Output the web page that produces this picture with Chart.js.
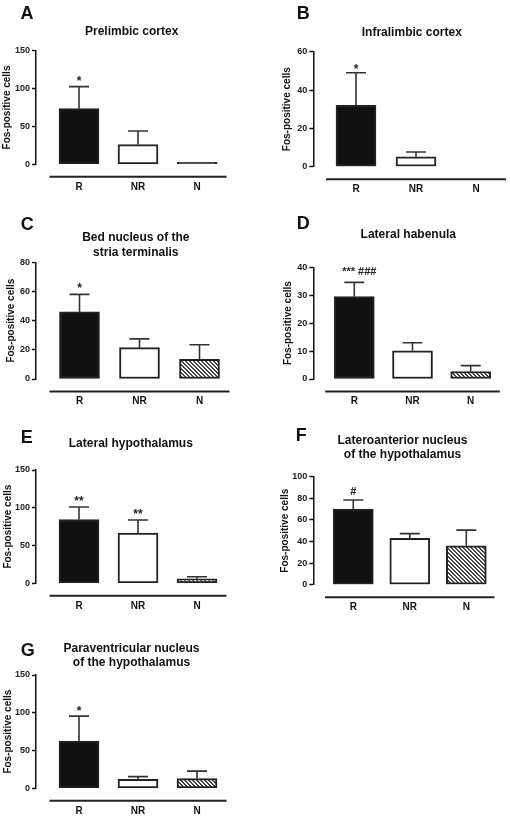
<!DOCTYPE html>
<html>
<head>
<meta charset="utf-8">
<script src="https://cdn.jsdelivr.net/npm/chart.js@4.4.1/dist/chart.umd.min.js"></script>
<style>
  body { margin: 0; background: #fff; }
  #fig { position: relative; width: 510px; height: 817px; overflow: hidden; }
  #fig canvas { position: absolute; }
</style>
</head>
<body>
<div id="fig"></div>
<script>
const categories = ['R', 'NR', 'N'];

// mean Fos-positive cells and SEM for each region
const prelimbicMean = [73.5, 26, 2.5];
const prelimbicSem = [29, 18, 0];
const infralimbicMean = [32, 5.2, 0];
const infralimbicSem = [17, 2.5, 0];
const bnstMean = [46, 21.5, 13.5];
const bnstSem = [12, 6, 10];
const habenulaMean = [29.5, 10.1, 2.7];
const habenulaSem = [5.1, 2.9, 2.1];
const lhMean = [84.5, 66.5, 6];
const lhSem = [16.5, 17.3, 2.6];
const lanMean = [70, 43, 36];
const lanSem = [8.4, 4.3, 14.5];
const pvnMean = [62.5, 12, 12.8];
const pvnSem = [33, 3.5, 10];

// y tick labels
const prelimbicTicks = [0, 50, 100, 150];
const infralimbicTicks = [0, 20, 40, 60];
const bnstTicks = [0, 20, 40, 60, 80];
const habenulaTicks = [0, 10, 20, 30, 40];
const lhTicks = [0, 50, 100, 150];
const lanTicks = [0, 20, 40, 60, 80, 100];
const pvnTicks = [0, 50, 100, 150];

// significance marks above bars
const prelimbicMarks = ['*', '', ''];
const infralimbicMarks = ['*', '', ''];
const bnstMarks = ['*', '', ''];
const habenulaMarks = ['*** ###', '', ''];
const lhMarks = ['**', '**', ''];
const lanMarks = ['#', '', ''];
const pvnMarks = ['*', '', ''];

const FONT = "'Liberation Sans', Arial, sans-serif";
Chart.defaults.font.family = FONT;

function hatch() {
  const c = document.createElement('canvas');
  c.width = c.height = 4;
  const g = c.getContext('2d');
  g.fillStyle = '#fff'; g.fillRect(0, 0, 4, 4);
  g.fillStyle = '#444';
  for (let i = 0; i < 4; i++) { g.fillRect(i, i, 1, 1); g.fillRect((i + 1) % 4, i, 1, 1); }
  return g.createPattern(c, 'repeat');
}
const hatchFill = hatch();

// layout of each panel: canvas box, y-axis x, first bar centre, bar spacing, plot top/bottom
const panels = [
  {letter: 'A', title: ['Prelimbic cortex'], mean: prelimbicMean, sem: prelimbicSem, ticks: prelimbicTicks, marks: prelimbicMarks,
   box: [0, 0, 255, 200], yx: 36, c0: 79, step: 59, top: 50.7, bottom: 164.3, yTitle: 7.5,
   letterAt: [20.5, 19.3], titleAt: [131.7, 34.8], gap: 15, lift: 2, markSize: 12, dx: 0},
  {letter: 'B', title: ['Infralimbic cortex'], mean: infralimbicMean, sem: infralimbicSem, ticks: infralimbicTicks, marks: infralimbicMarks,
   box: [255, 0, 255, 200], yx: 313.3, c0: 356, step: 60, top: 51.7, bottom: 166.7, yTitle: 287,
   letterAt: [296.7, 19.3], titleAt: [411.8, 35.5], gap: 15, lift: 0, markSize: 12, dx: 0},
  {letter: 'C', title: ['Bed nucleus of the', 'stria terminalis'], mean: bnstMean, sem: bnstSem, ticks: bnstTicks, marks: bnstMarks,
   box: [0, 200, 255, 220], yx: 36, c0: 79.5, step: 60, top: 262.3, bottom: 379, yTitle: 11.5,
   letterAt: [20.7, 230], titleAt: [135.8, 240.5], gap: 15, lift: 2, markSize: 12, dx: 0},
  {letter: 'D', title: ['Lateral habenula'], mean: habenulaMean, sem: habenulaSem, ticks: habenulaTicks, marks: habenulaMarks,
   box: [255, 200, 255, 220], yx: 313.3, c0: 354.3, step: 58.2, top: 267.3, bottom: 379, yTitle: 288.3,
   letterAt: [296.7, 229.3], titleAt: [408.3, 238.1], gap: 15, lift: 7, markSize: 11, dx: 5},
  {letter: 'E', title: ['Lateral hypothalamus'], mean: lhMean, sem: lhSem, ticks: lhTicks, marks: lhMarks,
   box: [0, 420, 255, 200], yx: 36, c0: 79, step: 59, top: 470, bottom: 583.3, yTitle: 7.8,
   letterAt: [20.7, 442.7], titleAt: [130.8, 447.1], gap: 15, lift: 2, markSize: 12, dx: 0},
  {letter: 'F', title: ['Lateroanterior nucleus', 'of the hypothalamus'], mean: lanMean, sem: lanSem, ticks: lanTicks, marks: lanMarks,
   box: [255, 420, 255, 200], yx: 313.3, c0: 353.3, step: 56.5, top: 476.7, bottom: 584.7, yTitle: 285.5,
   letterAt: [295.7, 440.7], titleAt: [402.5, 443.8], gap: 14.3, lift: 5, markSize: 11, dx: 0},
  {letter: 'G', title: ['Paraventricular nucleus', 'of the hypothalamus'], mean: pvnMean, sem: pvnSem, ticks: pvnTicks, marks: pvnMarks,
   box: [0, 620, 255, 197], yx: 36, c0: 79, step: 59, top: 675, bottom: 788.3, yTitle: 7.8,
   letterAt: [20.7, 656], titleAt: [131.5, 652.1], gap: 14, lift: 1, markSize: 12, dx: 0}
];

function decor(p) {
  return {
    id: 'decor' + p.letter,
    afterDatasetsDraw(chart) {
      const {ctx, chartArea: a, scales: {x, y}} = chart;
      const [bx, by] = p.box;
      const bars = chart.getDatasetMeta(0).data;
      ctx.save();
      // error bars (upper only)
      ctx.strokeStyle = '#333';
      ctx.lineWidth = 1.6;
      bars.forEach((bar, i) => {
        if (!p.sem[i]) return;
        const yt = y.getPixelForValue(p.mean[i] + p.sem[i]);
        ctx.beginPath();
        ctx.moveTo(bar.x, bar.y); ctx.lineTo(bar.x, yt);
        ctx.moveTo(bar.x - 10, yt); ctx.lineTo(bar.x + 10, yt);
        ctx.stroke();
      });
      // detached x axis line
      ctx.strokeStyle = '#222';
      ctx.lineWidth = 2;
      ctx.beginPath();
      ctx.moveTo(x.getPixelForValue(-0.5), a.bottom + 12.5);
      ctx.lineTo(x.getPixelForValue(2.5), a.bottom + 12.5);
      ctx.stroke();
      // significance marks
      ctx.fillStyle = '#222';
      ctx.textAlign = 'center';
      ctx.textBaseline = 'alphabetic';
      ctx.font = 'bold ' + p.markSize + 'px ' + FONT;
      bars.forEach((bar, i) => {
        if (!p.marks[i]) return;
        const yt = y.getPixelForValue(p.mean[i] + p.sem[i]);
        ctx.fillText(p.marks[i], bar.x + p.dx, yt - p.lift);
      });
      // panel letter and title
      ctx.fillStyle = '#111';
      ctx.textAlign = 'left';
      ctx.font = 'bold 18px ' + FONT;
      ctx.fillText(p.letter, p.letterAt[0] - bx, p.letterAt[1] - by);
      ctx.textAlign = 'center';
      ctx.font = 'bold 12px ' + FONT;
      p.title.forEach((t, k) => ctx.fillText(t, p.titleAt[0] - bx, p.titleAt[1] - by + k * p.gap));
      ctx.restore();
    }
  };
}

const fills = ['#111', '#fff', hatchFill];

const fig = document.getElementById('fig');
panels.forEach(p => {
  const [bx, by, bw, bh] = p.box;
  const cv = document.createElement('canvas');
  cv.width = bw; cv.height = bh;
  cv.style.left = bx + 'px'; cv.style.top = by + 'px';
  fig.appendChild(cv);
  const padLeft = p.yTitle - bx - 6;
  const yWidth = p.yx - bx - padLeft;
  const right = p.c0 + 2.5 * p.step;
  const xHeight = 28.5;
  const yTop = p.ticks[p.ticks.length - 1];
  new Chart(cv, {
    type: 'bar',
    data: {
      datasets: [{
        data: p.mean.map((v, i) => ({x: i, y: v})),
        // a near-zero bar shows only as a solid outline stroke
        backgroundColor: c => (c.raw && c.raw.y < yTop * 0.02) ? '#222' : fills[c.dataIndex],
        borderColor: '#222',
        borderWidth: 2,
        borderSkipped: false,
        barThickness: 40
      }]
    },
    options: {
      responsive: false,
      animation: false,
      layout: {padding: {left: padLeft, top: p.top - by, right: bx + bw - right,
                         bottom: Math.max(0, by + bh - p.bottom - xHeight)}},
      plugins: {legend: {display: false}, tooltip: {enabled: false}},
      scales: {
        x: {
          type: 'linear', min: (p.yx - p.c0) / p.step, max: 2.5, offset: false,
          grid: {display: false, drawTicks: false}, border: {display: false},
          afterBuildTicks: s => { s.ticks = categories.map((c, i) => ({value: i})); },
          afterFit: s => { s.height = xHeight; },
          ticks: {padding: 16.5, color: '#111', font: {size: 10, weight: 'bold'}, autoSkip: false, maxRotation: 0,
                  callback: v => categories[v]}
        },
        y: {
          min: p.ticks[0], max: yTop,
          afterFit: s => { s.width = yWidth; },
          ticks: {stepSize: p.ticks[1] - p.ticks[0], padding: 2, color: '#222', font: {size: 9, weight: 'bold'}},
          grid: {drawOnChartArea: false, tickLength: 4, tickWidth: 1.5, tickColor: '#111'},
          border: {color: '#111', width: 1.5},
          title: {display: true, text: 'Fos-positive cells', padding: {top: 0, bottom: 0}, color: '#111',
                  font: {size: 10, weight: 'bold'}}
        }
      }
    },
    plugins: [decor(p)]
  });
});
</script>
</body>
</html>
